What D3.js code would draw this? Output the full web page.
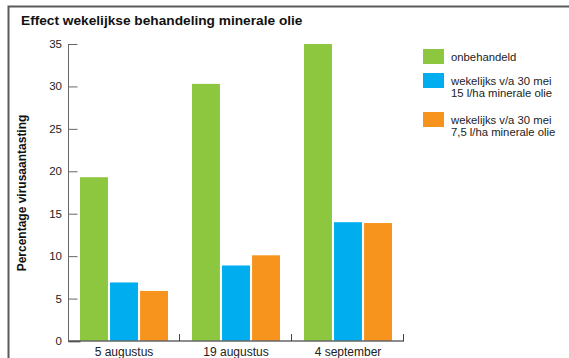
<!DOCTYPE html>
<html>
<head>
<meta charset="utf-8">
<script src="https://cdn.jsdelivr.net/npm/d3@7"></script>
<style>
  html, body { margin: 0; padding: 0; background: #fff; }
  svg { display: block; font-family: "Liberation Sans", Arial, Helvetica, sans-serif; }
</style>
</head>
<body>
<svg id="chart" width="569" height="358"></svg>
<script>
const title = "Effect wekelijkse behandeling minerale olie";
const yLabel = "Percentage virusaantasting";
const categories = ["5 augustus", "19 augustus", "4 september"];
const seriesNames = ["onbehandeld", "wekelijks v/a 30 mei 15 l/ha minerale olie", "wekelijks v/a 30 mei 7,5 l/ha minerale olie"];
const legendLines = [["onbehandeld"], ["wekelijks v/a 30 mei", "15 l/ha minerale olie"], ["wekelijks v/a 30 mei", "7,5 l/ha minerale olie"]];
const onbehandeld = [19.3, 30.3, 35.0];
const olie15 = [6.9, 8.9, 14.0];
const olie75 = [5.9, 10.1, 13.9];
const seriesColors = ["#8dc63f", "#00aeef", "#f7941d"];
const yTicks = [0, 5, 10, 15, 20, 25, 30, 35];

const seriesValues = [onbehandeld, olie15, olie75];
const data = categories.map((c, i) => ({ cat: c, vals: seriesNames.map((s, j) => ({ s, v: seriesValues[j][i], j })) }));

const svg = d3.select("#chart");

// frame
svg.append("path")
  .attr("d", "M8.5,358 L8.5,6.5 L569,6.5")
  .attr("fill", "none").attr("stroke", "#5a5a5a").attr("stroke-width", 2);

// title
svg.append("text").attr("x", 21).attr("y", 25)
  .attr("font-size", 13.7).attr("font-weight", "bold").attr("fill", "#111")
  .text(title);

const y = d3.scaleLinear().domain([0, 35]).range([341, 44]);
const x0 = d3.scaleBand().domain(categories).range([68, 404]);
const x1 = d3.scaleBand().domain(seriesNames).range([12, 100]).paddingInner(0.07);

// bars
const g = svg.append("g");
g.selectAll("g.grp").data(data).join("g")
  .attr("transform", d => `translate(${x0(d.cat)},0)`)
  .selectAll("rect").data(d => d.vals).join("rect")
  .attr("x", d => x1(d.s))
  .attr("width", x1.bandwidth())
  .attr("y", d => y(d.v))
  .attr("height", d => y(0) - y(d.v))
  .attr("fill", d => seriesColors[d.j]);

// y axis
const yAxis = svg.append("g").attr("transform", "translate(68,0)")
  .call(d3.axisRight(y).tickValues(yTicks).tickSize(9).tickFormat(""));
yAxis.select(".domain").attr("stroke", "#666").attr("d", `M0.5,${y(35)}V${y(0)}`);
yAxis.selectAll(".tick line").attr("stroke", "#666").attr("transform", "translate(0.5,0)");
yAxis.selectAll(".tick").filter(d => d === 0).select("line").attr("x2", 12).attr("stroke", "#111").attr("stroke-width", 1.5);

svg.append("g").selectAll("text").data(yTicks).join("text")
  .attr("x", 62).attr("y", d => y(d)).attr("dy", "0.35em")
  .attr("text-anchor", "end").attr("font-size", 11.5).attr("fill", "#222")
  .text(d => d);

// x axis
const xAxis = svg.append("g").attr("transform", `translate(0,${y(0)})`)
  .call(d3.axisTop(x0).tickSize(0).tickFormat(""));
xAxis.select(".domain").attr("stroke", "#666").attr("stroke-width", 1.5).attr("d", `M68,0H404`);
svg.append("g").selectAll("line").data(categories).join("line")
  .attr("x1", d => x0(d) + x0.bandwidth() - 0.5).attr("x2", d => x0(d) + x0.bandwidth() - 0.5)
  .attr("y1", y(0) - 7).attr("y2", y(0))
  .attr("stroke", "#444").attr("stroke-width", 1);

svg.append("g").selectAll("text").data(categories).join("text")
  .attr("x", d => x0(d) + x0.bandwidth() / 2).attr("y", 356)
  .attr("text-anchor", "middle").attr("font-size", 12).attr("fill", "#222")
  .text(d => d);

// y label
svg.append("text")
  .attr("transform", "translate(26,193) rotate(-90)")
  .attr("text-anchor", "middle").attr("font-size", 12).attr("font-weight", "bold").attr("fill", "#111")
  .text(yLabel);

// legend
const legendY = [49, 73, 112];
const leg = svg.append("g").selectAll("g").data(seriesNames).join("g")
  .attr("transform", (d, i) => `translate(423,${legendY[i]})`);
leg.append("rect").attr("width", 21).attr("height", 15).attr("fill", (d, i) => seriesColors[i]);
leg.each(function(d, i) {
  const t = d3.select(this).append("text").attr("x", 28).attr("font-size", 11.3).attr("fill", "#222");
  legendLines[i].forEach((ln, k) => {
    t.append("tspan").attr("x", 28).attr("y", 11.5 + k * 12.5).text(ln);
  });
});
</script>
</body>
</html>
